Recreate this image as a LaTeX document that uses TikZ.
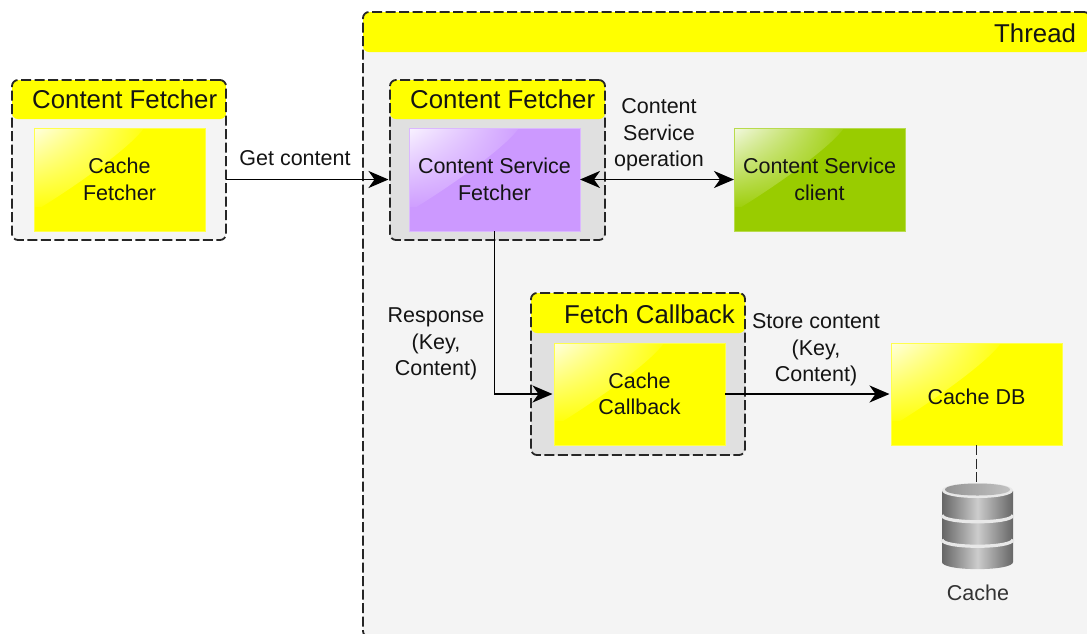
\documentclass[tikz,border=0pt]{standalone}
\usepackage{fontspec}
\setmainfont{Liberation Sans}
\usetikzlibrary{arrows.meta,calc,shadings}
\definecolor{cy}{HTML}{FFFF00}
\definecolor{cp}{HTML}{CC99FF}
\definecolor{cg}{HTML}{99CC00}
\definecolor{bglight}{HTML}{F4F4F4}
\definecolor{bgdark}{HTML}{E0E0E0}
\definecolor{ink}{HTML}{141414}
\tikzset{
  container/.style n args={4}{anchor=north west,inner sep=0pt,outer sep=0pt,
    minimum width=#1,minimum height=#2,fill=#3,draw=black!85,line width=1.8pt,
    dash pattern=on 10pt off 3.5pt,rounded corners=6pt,
    path picture={\fill[cy] (path picture bounding box.north west) rectangle
      ([yshift=-#4]path picture bounding box.north east);}},
  glossbox/.style 2 args={anchor=north west,inner sep=0pt,outer sep=0pt,
    minimum width=171pt,minimum height=#2,align=center,
    font=\fontsize{21.5}{26.5}\selectfont,text=ink,fill=#1,draw=#1!70!white,line width=.6pt,
    execute at begin node={\leavevmode\rule{0pt}{20.5pt}},
    path picture={
      \begin{scope}
      \clip (path picture bounding box.north west) -- ++(110pt,0pt)
        .. controls ++(-25pt,-35pt) and ++(-60pt,-45pt) .. ++(-110pt,-78pt) -- cycle;
      \shade[upper left=#1!12!white,upper right=#1!94!white,lower left=#1!94!white,lower right=#1!96!white]
        (path picture bounding box.north west) rectangle ([xshift=-61pt,yshift=25pt]path picture bounding box.south east);
      \end{scope}}},
  title/.style={anchor=base west,inner sep=0pt,font=\fontsize{25.8}{30}\selectfont,text=ink},
  lab/.style={align=center,inner sep=0pt,font=\fontsize{21.5}{26.5}\selectfont,text=ink},
  conn/.style={draw=black,line width=1.9pt,shorten >=1.5pt,-{Stealth[length=20pt,width=17pt,inset=6pt]}},
  biconn/.style={draw=black,line width=1.9pt,{Stealth[length=20pt,width=17pt,inset=6pt]}-{Stealth[length=20pt,width=17pt,inset=6pt]}},
  dbline/.style={draw=black!85,line width=1.8pt,dash pattern=on 10pt off 3.5pt},
  band/.style={draw=black!9,line width=3.2pt},
}
\begin{document}
\begin{tikzpicture}[x=1pt,y=-1pt]
\useasboundingbox (0,0) rectangle (1087,633);
% containers
\node[container={727pt}{625pt}{bglight}{40pt}] (thread) at (363,12) {};
\node[container={214pt}{160pt}{bglight}{39pt}] (lf) at (12,80) {};
\node[container={215pt}{160pt}{bgdark}{39pt}] (cf) at (390,80) {};
\node[container={214pt}{162pt}{bgdark}{40pt}] (fc) at (531,293) {};
% titles
\node[title] (tthread) at (994,42) {Thread};
\node[title] (tlf) at (32,108) {Content Fetcher};
\node[title] (tcf) at (410,108) {Content Fetcher};
\node[title] (tfc) at (564,323) {Fetch Callback};
% boxes
\node[glossbox={cy}{103pt}] (cachef) at (34,128) {Cache\\Fetcher};
\node[glossbox={cp}{103pt}] (csf) at (409,128) {Content Service\\Fetcher};
\node[glossbox={cg}{103pt}] (csc) at (734,128) {Content Service\\client};
\node[glossbox={cy}{102pt}] (cachecb) at (554,343) {Cache\\Callback};
\node[glossbox={cy}{102pt}] (cachedb) at (891,343) {Cache DB};
% cylinder
\node[inner sep=0pt,minimum width=71pt,minimum height=85pt] (cyl) at (977.5,525.5) {};
\shade[left color=black!60,right color=black!60,middle color=black!20]
  (942,491) -- (942,562) .. controls (942,571.5) and (1013,571.5) .. (1013,562) -- (1013,491) -- cycle;
\draw[band] (942,515) .. controls (942,524) and (1013,524) .. (1013,515);
\draw[band] (942,539.5) .. controls (942,548.5) and (1013,548.5) .. (1013,539.5);
\fill[black!9] (942,490.5) .. controls (942,500.5) and (1013,500.5) .. (1013,490.5)
  .. controls (1013,480.5) and (942,480.5) .. (942,490.5) -- cycle;
\shade[left color=black!42,right color=black!24]
  (945,489.5) .. controls (945,497.5) and (1010,497.5) .. (1010,489.5)
  .. controls (1010,481.5) and (945,481.5) .. (945,489.5) -- cycle;
\node[lab,text=black!80] (lcache) at (978,593) {Cache};
% connectors
\draw[conn] (lf.east |- csf.west) -- (cf.west |- csf.west);
\draw[biconn] (csf.east) -- (csc.west);
\draw[conn] (csf.south) |- (cachecb.west);
\draw[conn] (cachecb.east) -- (cachedb.west);
\draw[dbline] (cachedb.south) -- (cachedb.south |- cyl.north);
% labels
\node[lab] (lget) at (295,158) {Get content};
\node[lab] (lop) at (659,135) {Content\\Service\\operation};
\node[lab] (lresp) at (436,344) {Response\\(Key,\\Content)};
\node[lab] (lstore) at (816,350) {Store content\\(Key,\\Content)};
\end{tikzpicture}
\end{document}
